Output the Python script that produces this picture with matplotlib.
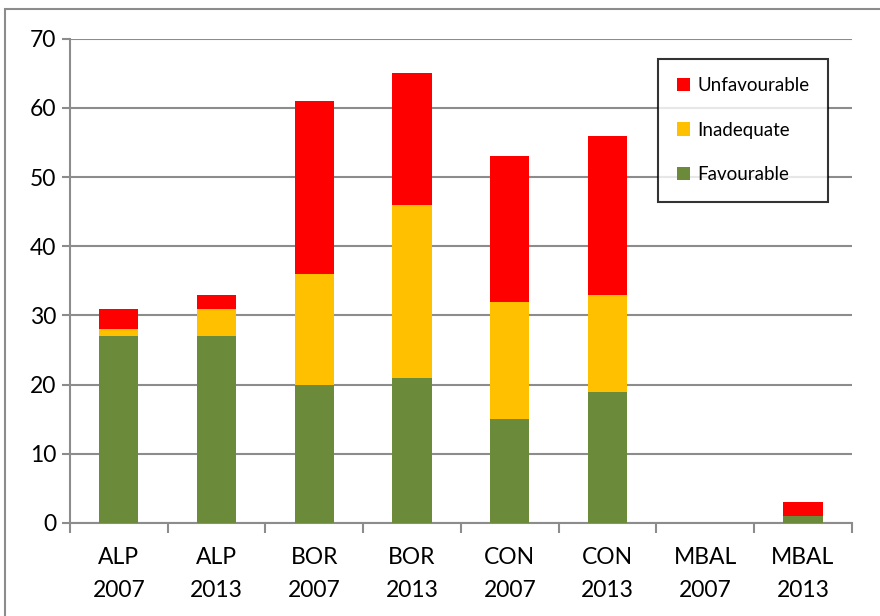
import numpy as np
import matplotlib
matplotlib.use("Agg")
import matplotlib.pyplot as plt
from matplotlib.patches import Rectangle

plt.rcParams["font.family"] = ["Lato", "DejaVu Sans"]

categories = ["ALP\n2007", "ALP\n2013", "BOR\n2007", "BOR\n2013",
              "CON\n2007", "CON\n2013", "MBAL\n2007", "MBAL\n2013"]
favourable = [27, 27, 20, 21, 15, 19, 0, 1]
inadequate = [1, 4, 16, 25, 17, 14, 0, 0]
unfavourable = [3, 2, 25, 19, 21, 23, 0, 2]

GREEN = "#6B8A3A"
YELLOW = "#FFC000"
RED = "#FF0000"
GRID = "#8C8C8C"

fig = plt.figure(figsize=(8.8, 6.16), dpi=100)
ax = fig.add_axes([0.0795, 0.151, 0.8885, 0.786])

x = np.arange(len(categories))
fav = np.array(favourable)
ina = np.array(inadequate)
unf = np.array(unfavourable)
w = 0.4
ax.bar(x, fav, w, color=GREEN, label="Favourable", zorder=3)
ax.bar(x, ina, w, bottom=fav, color=YELLOW, label="Inadequate", zorder=3)
ax.bar(x, unf, w, bottom=fav + ina, color=RED, label="Unfavourable", zorder=3)

ax.set_xlim(-0.5, len(categories) - 0.5)
ax.set_ylim(0, 70)
ax.set_yticks(range(0, 71, 10))
ax.tick_params(axis="y", labelsize=16.5, length=6, color=GRID, width=1.5, pad=4)
ax.yaxis.grid(True, color=GRID, linewidth=1.5, zorder=0)

ax.set_xticks(x)
ax.set_xticklabels(categories, fontsize=16.5, linespacing=1.75)
ax.tick_params(axis="x", which="major", length=0, pad=17)
ax.set_xticks(np.arange(-0.5, len(categories), 1), minor=True)
ax.tick_params(axis="x", which="minor", length=7, color=GRID, width=1.5)

for side in ["top", "right"]:
    ax.spines[side].set_visible(False)
for side in ["left", "bottom"]:
    ax.spines[side].set_color(GRID)
    ax.spines[side].set_linewidth(1.5)

handles, labels = ax.get_legend_handles_labels()
leg = ax.legend(handles[::-1], labels[::-1], loc="upper left",
                bbox_to_anchor=(0.752, 0.959), fontsize=13.5, frameon=True,
                fancybox=False, edgecolor="black", handlelength=0.7,
                handleheight=0.7, handletextpad=0.4, labelspacing=1.45,
                borderpad=1.0, borderaxespad=0)
leg.get_frame().set_linewidth(1.5)

fig.patches.append(Rectangle((5 / 880, -0.1), 1.2, 1 - 9 / 616 + 0.1,
                             transform=fig.transFigure, fill=False,
                             edgecolor="#8C8C8C", linewidth=1.5))

fig.savefig("out.png", dpi=100)
